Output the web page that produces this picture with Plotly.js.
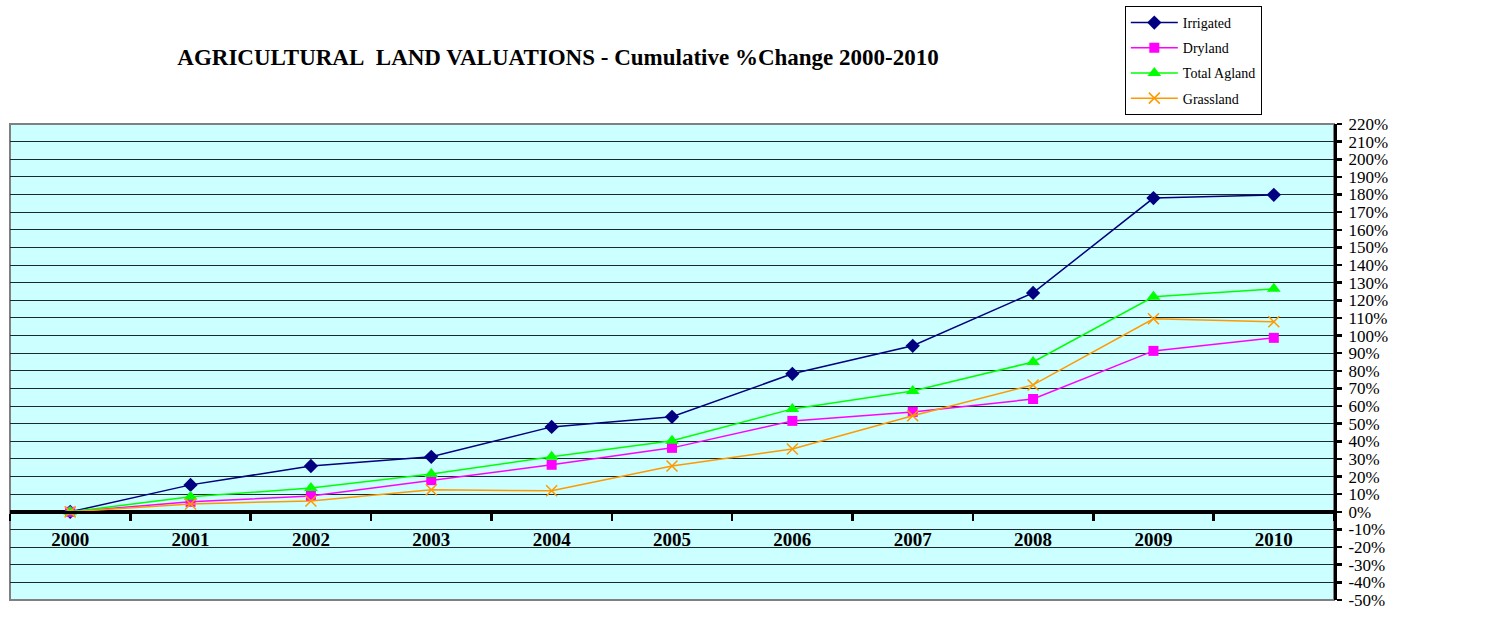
<!DOCTYPE html>
<html>
<head>
<meta charset="utf-8">
<script src="https://cdn.plot.ly/plotly-3.0.1.min.js"></script>
<style>html,body{margin:0;padding:0;background:#fff;}#chart{width:1498px;height:624px;}</style>
</head>
<body>
<div id="chart"></div>
<script>
const years = ["2000","2001","2002","2003","2004","2005","2006","2007","2008","2009","2010"];
const irrigated = [0, 15.3, 26, 31.2, 48.2, 53.9, 78.3, 94.2, 124.2, 178, 179.8];
const dryland   = [0, 5.7, 9, 18, 26.7, 36.3, 51.6, 56.7, 64, 91.3, 98.7];
const totalAgland = [0, 8.5, 13.6, 21.5, 31.2, 40.3, 58.4, 68.6, 85, 122, 126.5];
const grassland = [0, 4.5, 6.2, 12.5, 12, 26, 35.7, 54.5, 72, 109.5, 107.8];
const yTickVals = [-50,-40,-30,-20,-10,0,10,20,30,40,50,60,70,80,90,100,110,120,130,140,150,160,170,180,190,200,210,220];
const yTickText = ["-50%","-40%","-30%","-20%","-10%","0%","10%","20%","30%","40%","50%","60%","70%","80%","90%","100%","110%","120%","130%","140%","150%","160%","170%","180%","190%","200%","210%","220%"];

const FONT = "Liberation Serif, 'Times New Roman', serif";

const traces = [
  {name:"Irrigated", x:years, y:irrigated, type:"scatter", mode:"lines+markers", legendgroup:"a",
   line:{color:"#000080", width:1.5}, marker:{symbol:"diamond", size:11, color:"#000080"}},
  {name:"Dryland", x:years, y:dryland, type:"scatter", mode:"lines+markers", legendgroup:"b",
   line:{color:"#FF00FF", width:1.5}, marker:{symbol:"square", size:10, color:"#FF00FF"}},
  {name:"Total Agland", x:years, y:totalAgland, type:"scatter", mode:"lines+markers", legendgroup:"c",
   line:{color:"#00FF00", width:1.5}, marker:{symbol:"triangle-up", size:12, color:"#00FF00"}},
  {name:"Grassland", x:years, y:grassland, type:"scatter", mode:"lines+markers", legendgroup:"d",
   line:{color:"#FF9900", width:1.5}, marker:{symbol:"x-thin-open", size:11, color:"#FF9900", line:{color:"#FF9900", width:1.5}}}
];

const layout = {
  width:1498, height:624,
  margin:{l:10, r:164, t:124, b:24, pad:0, autoexpand:false},
  paper_bgcolor:"#FFFFFF",
  plot_bgcolor:"#CCFFFF",
  font:{family:FONT, color:"#000"},
  title:{text:"<b>AGRICULTURAL\u00A0\u00A0LAND VALUATIONS - Cumulative %Change 2000-2010</b>",
         font:{family:FONT, size:23, color:"#000"}, x:0.3725, xanchor:"center", y:0.909, yanchor:"middle", xref:"container", yref:"container"},
  showlegend:true,
  legend:{x:0.842, xanchor:"left", y:1.248, yanchor:"top", bgcolor:"#FFFFFF", bordercolor:"#000", borderwidth:1,
          font:{family:FONT, size:14, color:"#000"}, tracegroupgap:4, traceorder:"grouped", itemwidth:47},
  xaxis:{type:"category", range:[-0.5,10.5], anchor:"free", position:0.1852,
         showline:true, linecolor:"#000", linewidth:3, ticks:"outside", tickson:"boundaries",
         ticklen:7, tickwidth:2.5, tickcolor:"#000", showgrid:false, zeroline:false,
         tickfont:{family:FONT, size:19, color:"#000", weight:"bold"}, ticklabelstandoff:9, fixedrange:true},
  yaxis:{range:[-50,220], side:"right", tickmode:"array", tickvals:yTickVals, ticktext:yTickText,
         showline:true, linecolor:"#000", linewidth:3, ticks:"outside", ticklen:5, tickwidth:2.5, tickcolor:"#000",
         showgrid:true, gridcolor:"#1a2a2a", gridwidth:1,
         zeroline:true, zerolinecolor:"#000", zerolinewidth:3,
         tickfont:{family:FONT, size:17, color:"#000"}, ticklabelstandoff:3, fixedrange:true},
  shapes:[{type:"rect", xref:"paper", yref:"paper", x0:0, x1:1, y0:0, y1:1, line:{color:"#808080", width:2}, layer:"below"}]
};

Plotly.newPlot("chart", traces, layout, {displayModeBar:false, staticPlot:true});
</script>
</body>
</html>
